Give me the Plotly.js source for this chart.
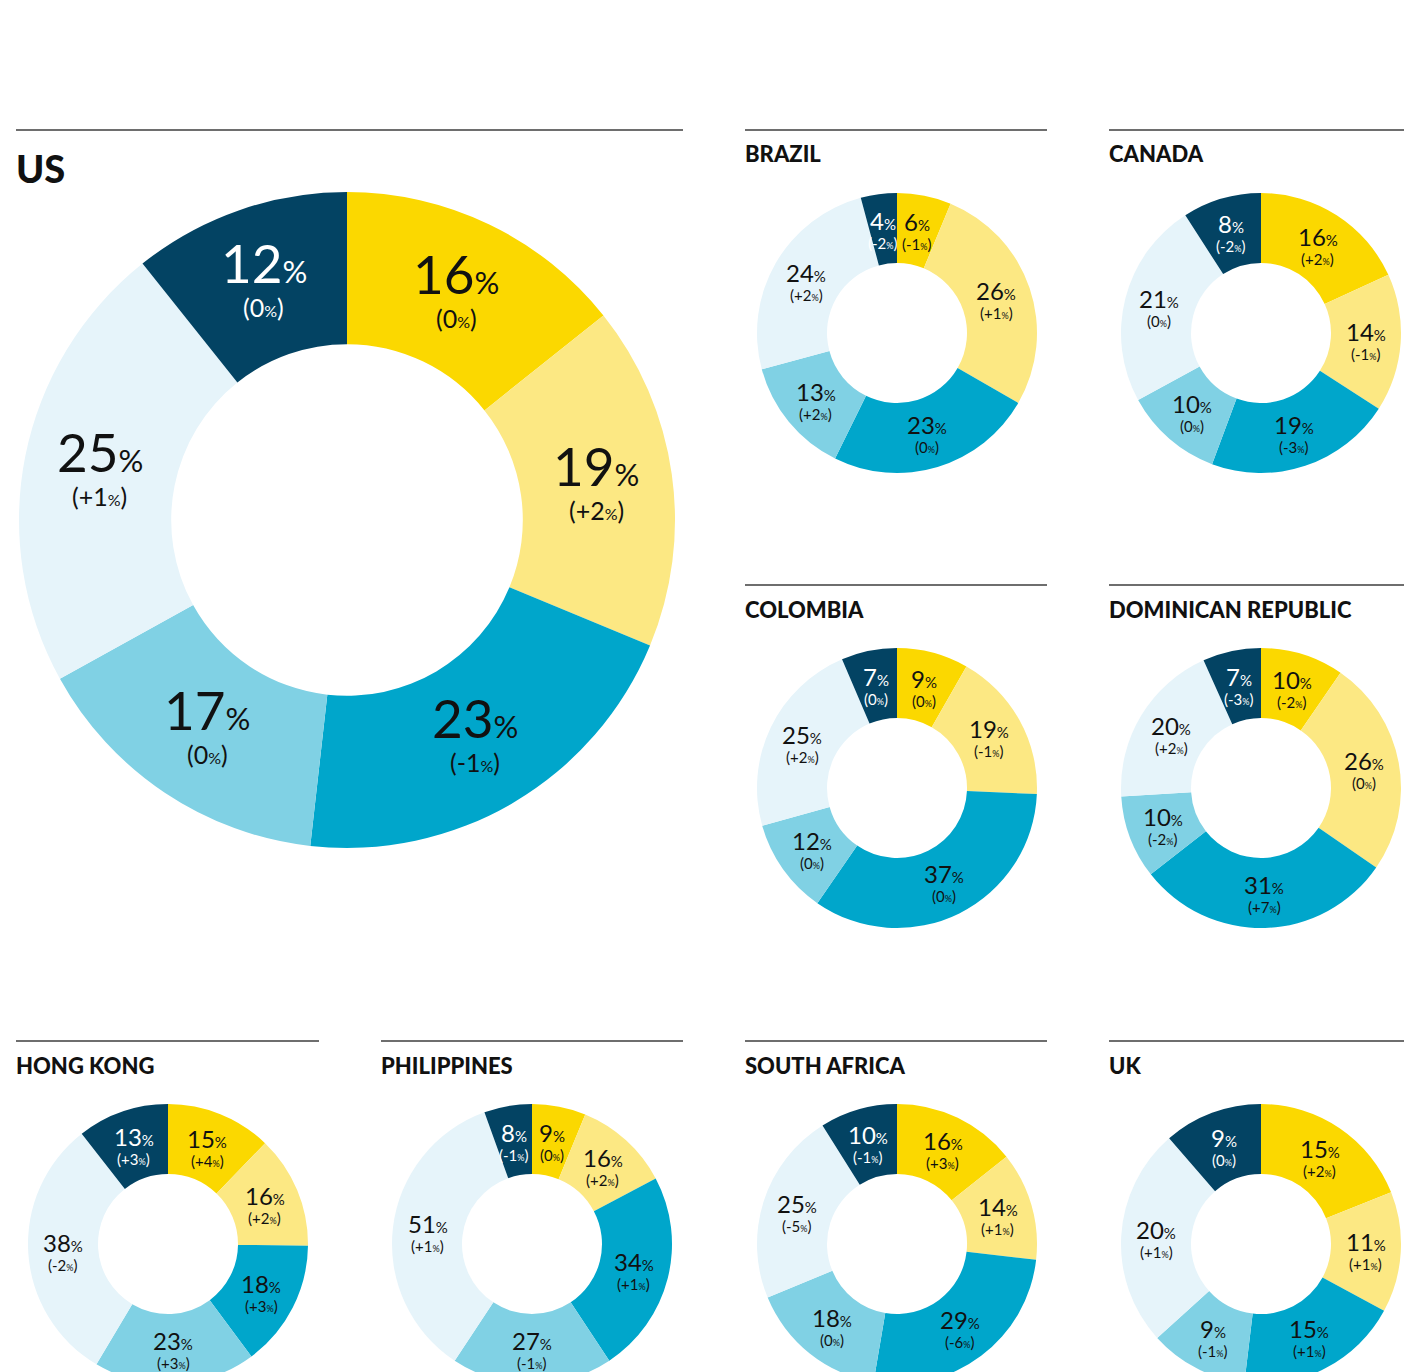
<!DOCTYPE html>
<html>
<head>
<meta charset="utf-8">
<script src="https://cdn.plot.ly/plotly-3.0.1.min.js"></script>
<style>
html,body{margin:0;padding:0;background:#fff;overflow:hidden;width:1404px;height:1372px;}
#chart{width:1404px;height:1400px;}
</style>
</head>
<body>
<div id="chart"></div>
<script>
// ---- data (slice order clockwise from 12 o'clock) ----
const countries = ['US','BRAZIL','CANADA','COLOMBIA','DOMINICAN REPUBLIC','HONG KONG','PHILIPPINES','SOUTH AFRICA','UK'];
const usShare = [16,19,23,17,25,12];
const usChange = ['0','+2','-1','0','+1','0'];
const brazilShare = [6,26,23,13,24,4];
const brazilChange = ['-1','+1','0','+2','+2','-2'];
const canadaShare = [16,14,19,10,21,8];
const canadaChange = ['+2','-1','-3','0','0','-2'];
const colombiaShare = [9,19,37,12,25,7];
const colombiaChange = ['0','-1','0','0','+2','0'];
const drShare = [10,26,31,10,20,7];
const drChange = ['-2','0','+7','-2','+2','-3'];
const hkShare = [15,16,18,23,38,13];
const hkChange = ['+4','+2','+3','+3','-2','+3'];
const phShare = [9,16,34,27,51,8];
const phChange = ['0','+2','+1','-1','+1','-1'];
const saShare = [16,14,29,18,25,10];
const saChange = ['+3','+1','-6','0','-5','-1'];
const ukShare = [15,11,15,9,20,9];
const ukChange = ['+2','+1','+1','-1','+1','0'];

const shares = [usShare,brazilShare,canadaShare,colombiaShare,drShare,hkShare,phShare,saShare,ukShare];
const changes = [usChange,brazilChange,canadaChange,colombiaChange,drChange,hkChange,phChange,saChange,ukChange];

// ---- styling / layout ----
const colors = ['#FBD800','#FCE883','#00A6CB','#80D1E4','#E6F4FA','#034363'];
const textColors = ['#111','#111','#111','#111','#111','#fff'];
const W = 1404, H = 1400;
// pixel geometry for each donut: center x, center y, radius, hole, big flag
const geo = [
  {cx:347, cy:520, r:328, hole:0.536, big:true},
  {cx:897, cy:333, r:140, hole:0.5},
  {cx:1261, cy:333, r:140, hole:0.5},
  {cx:897, cy:788, r:140, hole:0.5},
  {cx:1261, cy:788, r:140, hole:0.5},
  {cx:168, cy:1244, r:140, hole:0.5},
  {cx:532, cy:1244, r:140, hole:0.5},
  {cx:897, cy:1244, r:140, hole:0.5},
  {cx:1261, cy:1244, r:140, hole:0.5}
];
// header rules: [x0, x1, y]
const rules = [
  [16,683,130],[745,1047,130],[1109,1404,130],
  [745,1047,585],[1109,1404,585],
  [16,319,1041],[381,683,1041],[745,1047,1041],[1109,1404,1041]
];

const FONT = 'Lato, "Open Sans", sans-serif';
const data = [];
const annotations = [];
const shapes = [];

countries.forEach((name, i) => {
  const g = geo[i];
  data.push({
    type:'pie',
    values: shares[i],
    labels: shares[i].map((v,k)=>name+' '+k),
    sort:false,
    direction:'clockwise',
    rotation:0,
    hole:g.hole,
    textinfo:'none',
    hoverinfo:'skip',
    showlegend:false,
    marker:{colors:colors, line:{width:0}},
    domain:{x:[(g.cx-g.r)/W,(g.cx+g.r)/W], y:[1-(g.cy+g.r)/H, 1-(g.cy-g.r)/H]}
  });

  // labels at ring mid-radius, mid-angle (derived from the values)
  const total = shares[i].reduce((a,b)=>a+b,0);
  const rm = g.r*(1+g.hole)/2;
  let cum = 0;
  const nSize = g.big ? 53 : 24, pSize = g.big ? 31 : 15;
  const cSize = g.big ? 25 : 15, cpSize = g.big ? 16 : 9;
  const shift = g.big ? -14 : -8;
  const gap = g.big ? 6 : 5;
  shares[i].forEach((v,k) => {
    const mid = (cum + v/2)/total*2*Math.PI;
    cum += v;
    const px = g.cx + rm*Math.sin(mid);
    const py = g.cy - rm*Math.cos(mid);
    const ax = px/W, ay = 1-py/H;
    annotations.push({
      xref:'paper', yref:'paper', x:ax, y:ay, xanchor:'center', yanchor:'bottom',
      yshift:shift, showarrow:false,
      text: v + '<span style="font-size:'+pSize+'px">%</span>',
      font:{family:FONT, size:nSize, color:textColors[k]}
    });
    annotations.push({
      xref:'paper', yref:'paper', x:ax, y:ay, xanchor:'center', yanchor:'top',
      yshift:shift + gap, showarrow:false,
      text: '(' + changes[i][k] + '<span style="font-size:'+cpSize+'px">%</span>)',
      font:{family:FONT, size:cSize, color:textColors[k]}
    });
  });

  // header rule + title
  const r = rules[i];
  shapes.push({type:'line', xref:'paper', yref:'paper', x0:r[0]/W, x1:r[1]/W, y0:1-r[2]/H, y1:1-r[2]/H,
    line:{color:'#6e6e6e', width:2}});
  annotations.push({
    xref:'paper', yref:'paper', x:(r[0]-2)/W, y:1-(r[2]+(g.big?38:24))/H,
    xanchor:'left', yanchor:'middle', showarrow:false,
    text:name,
    font:{family:FONT, size:g.big?38:22, weight:900, color:'#111'}
  });
});

const layout = {
  width:W, height:H,
  margin:{l:0,r:0,t:0,b:0},
  paper_bgcolor:'#fff', plot_bgcolor:'#fff',
  showlegend:false,
  annotations:annotations,
  shapes:shapes
};
Plotly.newPlot('chart', data, layout, {staticPlot:true, displayModeBar:false});
</script>
</body>
</html>
